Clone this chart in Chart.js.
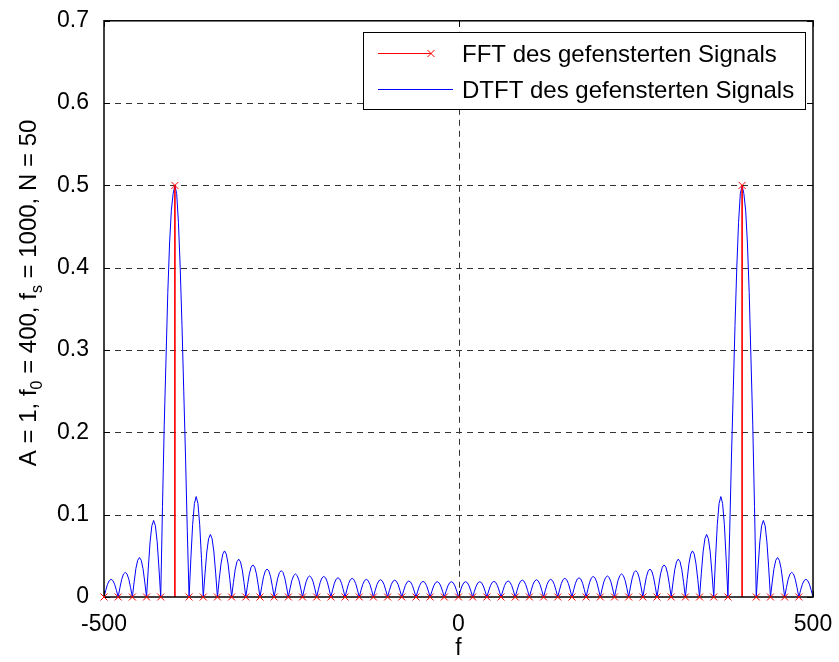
<!DOCTYPE html>
<html>
<head>
<meta charset="utf-8">
<script src="https://cdn.jsdelivr.net/npm/chart.js@4"></script>
<style>
html, body { margin: 0; padding: 0; background: #fff; }
</style>
</head>
<body>
<canvas id="chart" width="839" height="662"></canvas>
<script>
// ====== Data ======
const fftFreq = [
    -500, -480, -460, -440, -420, -400, -380, -360, -340, -320,
    -300, -280, -260, -240, -220, -200, -180, -160, -140, -120,
    -100, -80, -60, -40, -20, 0, 20, 40, 60, 80,
    100, 120, 140, 160, 180, 200, 220, 240, 260, 280,
    300, 320, 340, 360, 380, 400, 420, 440, 460, 480
];
const fftAmp = [
    0, 0, 0, 0, 0, 0.5, 0, 0, 0, 0,
    0, 0, 0, 0, 0, 0, 0, 0, 0, 0,
    0, 0, 0, 0, 0, 0, 0, 0, 0, 0,
    0, 0, 0, 0, 0, 0, 0, 0, 0, 0,
    0, 0, 0, 0, 0, 0.5, 0, 0, 0, 0
];

// DTFT magnitude, read every 2.5 Hz from -500 to 500 (one row = 20 Hz)
const dtftStart = -500;
const dtftStep = 2.5;
const dtftAmp = [
    0, 0.0082, 0.0155, 0.020, 0.0215, 0.020, 0.0155, 0.0082,
    0, 0.0114, 0.0216, 0.0279, 0.030, 0.0279, 0.0216, 0.0114,
    0, 0.0182, 0.0346, 0.0446, 0.048, 0.0446, 0.0346, 0.0182,
    0, 0.0353, 0.067, 0.0865, 0.093, 0.0865, 0.067, 0.0353,
    0, 0.11, 0.21, 0.29, 0.37, 0.43, 0.47, 0.49,
    0.5, 0.49, 0.455, 0.40, 0.33, 0.25, 0.17, 0.08,
    0, 0.0464, 0.0878, 0.1135, 0.122, 0.1135, 0.0878, 0.0464,
    0, 0.0289, 0.0547, 0.0707, 0.076, 0.0707, 0.0547, 0.0289,
    0, 0.0213, 0.0403, 0.0521, 0.056, 0.0521, 0.0403, 0.0213,
    0, 0.0175, 0.0331, 0.0428, 0.046, 0.0428, 0.0331, 0.0175,
    0, 0.0148, 0.0281, 0.0363, 0.039, 0.0363, 0.0281, 0.0148,
    0, 0.0129, 0.0245, 0.0316, 0.034, 0.0316, 0.0245, 0.0129,
    0, 0.0122, 0.023, 0.0298, 0.032, 0.0298, 0.023, 0.0122,
    0, 0.0106, 0.0202, 0.026, 0.028, 0.026, 0.0202, 0.0106,
    0, 0.0097, 0.0184, 0.0237, 0.0255, 0.0237, 0.0184, 0.0097,
    0, 0.0095, 0.018, 0.0233, 0.025, 0.0233, 0.018, 0.0095,
    0, 0.0089, 0.0168, 0.0218, 0.0234, 0.0218, 0.0168, 0.0089,
    0, 0.0086, 0.0163, 0.0211, 0.0227, 0.0211, 0.0163, 0.0086,
    0, 0.0082, 0.0155, 0.020, 0.0215, 0.020, 0.0155, 0.0082,
    0, 0.008, 0.0151, 0.0195, 0.021, 0.0195, 0.0151, 0.008,
    0, 0.0078, 0.0148, 0.0191, 0.0205, 0.0191, 0.0148, 0.0078,
    0, 0.0074, 0.014, 0.0181, 0.0195, 0.0181, 0.014, 0.0074,
    0, 0.0072, 0.0137, 0.0177, 0.019, 0.0177, 0.0137, 0.0072,
    0, 0.0071, 0.0134, 0.0173, 0.0186, 0.0173, 0.0134, 0.0071,
    0, 0.0071, 0.0134, 0.0173, 0.0186, 0.0173, 0.0134, 0.0071,
    0, 0.0071, 0.0134, 0.0173, 0.0186, 0.0173, 0.0134, 0.0071,
    0, 0.0071, 0.0134, 0.0173, 0.0186, 0.0173, 0.0134, 0.0071,
    0, 0.0072, 0.0137, 0.0177, 0.019, 0.0177, 0.0137, 0.0072,
    0, 0.0074, 0.014, 0.0181, 0.0195, 0.0181, 0.014, 0.0074,
    0, 0.0078, 0.0148, 0.0191, 0.0205, 0.0191, 0.0148, 0.0078,
    0, 0.008, 0.0151, 0.0195, 0.021, 0.0195, 0.0151, 0.008,
    0, 0.0082, 0.0155, 0.020, 0.0215, 0.020, 0.0155, 0.0082,
    0, 0.0086, 0.0163, 0.0211, 0.0227, 0.0211, 0.0163, 0.0086,
    0, 0.0089, 0.0168, 0.0218, 0.0234, 0.0218, 0.0168, 0.0089,
    0, 0.0095, 0.018, 0.0233, 0.025, 0.0233, 0.018, 0.0095,
    0, 0.0097, 0.0184, 0.0237, 0.0255, 0.0237, 0.0184, 0.0097,
    0, 0.0106, 0.0202, 0.026, 0.028, 0.026, 0.0202, 0.0106,
    0, 0.0122, 0.023, 0.0298, 0.032, 0.0298, 0.023, 0.0122,
    0, 0.0129, 0.0245, 0.0316, 0.034, 0.0316, 0.0245, 0.0129,
    0, 0.0148, 0.0281, 0.0363, 0.039, 0.0363, 0.0281, 0.0148,
    0, 0.0175, 0.0331, 0.0428, 0.046, 0.0428, 0.0331, 0.0175,
    0, 0.0213, 0.0403, 0.0521, 0.056, 0.0521, 0.0403, 0.0213,
    0, 0.0289, 0.0547, 0.0707, 0.076, 0.0707, 0.0547, 0.0289,
    0, 0.0464, 0.0878, 0.1135, 0.122, 0.1135, 0.0878, 0.0464,
    0, 0.08, 0.17, 0.25, 0.33, 0.40, 0.455, 0.49,
    0.5, 0.49, 0.47, 0.43, 0.37, 0.29, 0.21, 0.11,
    0, 0.0353, 0.067, 0.0865, 0.093, 0.0865, 0.067, 0.0353,
    0, 0.0182, 0.0346, 0.0446, 0.048, 0.0446, 0.0346, 0.0182,
    0, 0.0114, 0.0216, 0.0279, 0.030, 0.0279, 0.0216, 0.0114,
    0, 0.0082, 0.0155, 0.020, 0.0215, 0.020, 0.0155, 0.0082,
    0
];

const xTicks = [-500, 0, 500];
const yTicks = [0, 0.1, 0.2, 0.3, 0.4, 0.5, 0.6, 0.7];
const seriesNames = ['FFT des gefensterten Signals', 'DTFT des gefensterten Signals'];

// ===== Styles =====
const FONT = 'Arial, "Liberation Sans", Helvetica, sans-serif';
const RED = '#ff0000';
const BLUE = '#0000ff';

// ===== Axes frame, dashed grid, legend and titles =====
const matlabAxes = {
    id: 'matlabAxes',
    beforeDatasetsDraw(chart) {
        const { ctx, chartArea: a, scales: { x, y } } = chart;
        ctx.save();
        ctx.strokeStyle = '#333';
        ctx.lineWidth = 1;
        ctx.setLineDash([6, 5]);
        yTicks.forEach(v => {
            if (v === 0 || v === 0.7) return;
            const py = Math.round(y.getPixelForValue(v)) + 0.5;
            ctx.beginPath();
            ctx.moveTo(a.left, py);
            ctx.lineTo(a.right, py);
            ctx.stroke();
        });
        xTicks.forEach(v => {
            if (v === -500 || v === 500) return;
            const px = Math.round(x.getPixelForValue(v)) + 0.5;
            ctx.beginPath();
            ctx.moveTo(px, a.top);
            ctx.lineTo(px, a.bottom);
            ctx.stroke();
        });
        ctx.restore();
    },
    afterDatasetsDraw(chart) {
        const { ctx, chartArea: a, scales: { x, y } } = chart;
        ctx.save();
        // box + inward ticks
        ctx.strokeStyle = '#000';
        ctx.lineWidth = 1.5;
        ctx.strokeRect(a.left, a.top, a.right - a.left, a.bottom - a.top);
        ctx.lineWidth = 1;
        const tl = 6;
        yTicks.forEach(v => {
            const py = Math.round(y.getPixelForValue(v)) + 0.5;
            ctx.beginPath();
            ctx.moveTo(a.left, py); ctx.lineTo(a.left + tl, py);
            ctx.moveTo(a.right, py); ctx.lineTo(a.right - tl, py);
            ctx.stroke();
        });
        xTicks.forEach(v => {
            const px = Math.round(x.getPixelForValue(v)) + 0.5;
            ctx.beginPath();
            ctx.moveTo(px, a.bottom); ctx.lineTo(px, a.bottom - tl);
            ctx.moveTo(px, a.top); ctx.lineTo(px, a.top + tl);
            ctx.stroke();
        });

        // FFT markers on top of the frame line
        const meta = chart.getDatasetMeta(0);
        ctx.strokeStyle = RED;
        meta.data.forEach(pt => {
            ctx.beginPath();
            ctx.moveTo(pt.x - 3.5, pt.y - 3.5); ctx.lineTo(pt.x + 3.5, pt.y + 3.5);
            ctx.moveTo(pt.x - 3.5, pt.y + 3.5); ctx.lineTo(pt.x + 3.5, pt.y - 3.5);
            ctx.stroke();
        });

        // legend
        const lx = 363.5, ly = 32.5, lw = 442, lh = 77;
        ctx.fillStyle = '#fff';
        ctx.fillRect(lx, ly, lw, lh);
        ctx.strokeStyle = '#000';
        ctx.strokeRect(lx, ly, lw, lh);
        ctx.font = '24px ' + FONT;
        ctx.fillStyle = '#000';
        ctx.textAlign = 'left';
        ctx.textBaseline = 'alphabetic';

        ctx.strokeStyle = RED;
        ctx.beginPath();
        ctx.moveTo(378, 53.5); ctx.lineTo(431, 53.5);
        ctx.moveTo(427.5, 50); ctx.lineTo(434.5, 57);
        ctx.moveTo(427.5, 57); ctx.lineTo(434.5, 50);
        ctx.stroke();
        ctx.fillText(seriesNames[0], 462, 62);

        ctx.strokeStyle = BLUE;
        ctx.beginPath();
        ctx.moveTo(378, 89.5); ctx.lineTo(453, 89.5);
        ctx.stroke();
        ctx.fillText(seriesNames[1], 462, 98);

        // x title
        ctx.font = '23px ' + FONT;
        ctx.textAlign = 'center';
        ctx.fillText('f', (a.left + a.right) / 2, 655);

        // y title with subscripts
        const parts = [
            ['A = 1, f', false], ['0', true], [' = 400, f', false],
            ['s', true], [' = 1000, N = 50', false]
        ];
        const mainFont = '24px ' + FONT, subFont = '16px ' + FONT;
        let total = 0;
        parts.forEach(([t, sub]) => {
            ctx.font = sub ? subFont : mainFont;
            total += ctx.measureText(t).width;
        });
        ctx.translate(36, (a.top + a.bottom) / 2 - 16);
        ctx.rotate(-Math.PI / 2);
        ctx.textAlign = 'left';
        let cx = -total / 2;
        parts.forEach(([t, sub]) => {
            ctx.font = sub ? subFont : mainFont;
            ctx.fillText(t, cx, sub ? 6 : 0);
            cx += ctx.measureText(t).width;
        });
        ctx.restore();
    }
};

// ===== Chart =====
const ctx = document.getElementById('chart').getContext('2d');
new Chart(ctx, {
    type: 'scatter',
    data: {
        datasets: [
            {
                type: 'scatter',
                label: seriesNames[0],
                data: fftFreq.map((f, i) => ({ x: f, y: fftAmp[i] })),
                pointRadius: 0,
                borderColor: RED,
                showLine: false,
                order: 0
            },
            {
                type: 'bar',
                label: 'stems',
                data: fftFreq.map((f, i) => ({ x: f, y: fftAmp[i] })),
                backgroundColor: RED,
                barThickness: 1,
                borderWidth: 0,
                order: 1
            },
            {
                type: 'line',
                label: seriesNames[1],
                data: dtftAmp.map((v, i) => ({ x: dtftStart + i * dtftStep, y: v })),
                borderColor: BLUE,
                borderWidth: 1,
                pointRadius: 0,
                tension: 0,
                fill: false,
                order: 2
            }
        ]
    },
    options: {
        responsive: false,
        animation: false,
        devicePixelRatio: 1,
        layout: { padding: { left: 0, top: 20, right: 26, bottom: 0 } },
        scales: {
            x: {
                type: 'linear',
                min: -500,
                max: 500,
                offset: false,
                afterBuildTicks: s => { s.ticks = xTicks.map(v => ({ value: v })); },
                afterFit: s => { s.height = 65; },
                grid: { display: false },
                border: { display: false },
                ticks: { color: '#000', font: { size: 23, family: FONT }, padding: 6, maxRotation: 0, autoSkip: false }
            },
            y: {
                type: 'linear',
                min: 0,
                max: 0.7,
                afterBuildTicks: s => { s.ticks = yTicks.map(v => ({ value: v })); },
                afterFit: s => { s.width = 104; },
                grid: { display: false },
                border: { display: false },
                ticks: { color: '#000', font: { size: 23, family: FONT }, padding: 7, callback: v => String(v) }
            }
        },
        plugins: {
            legend: { display: false },
            tooltip: { enabled: false }
        }
    },
    plugins: [matlabAxes]
});
</script>
</body>
</html>
